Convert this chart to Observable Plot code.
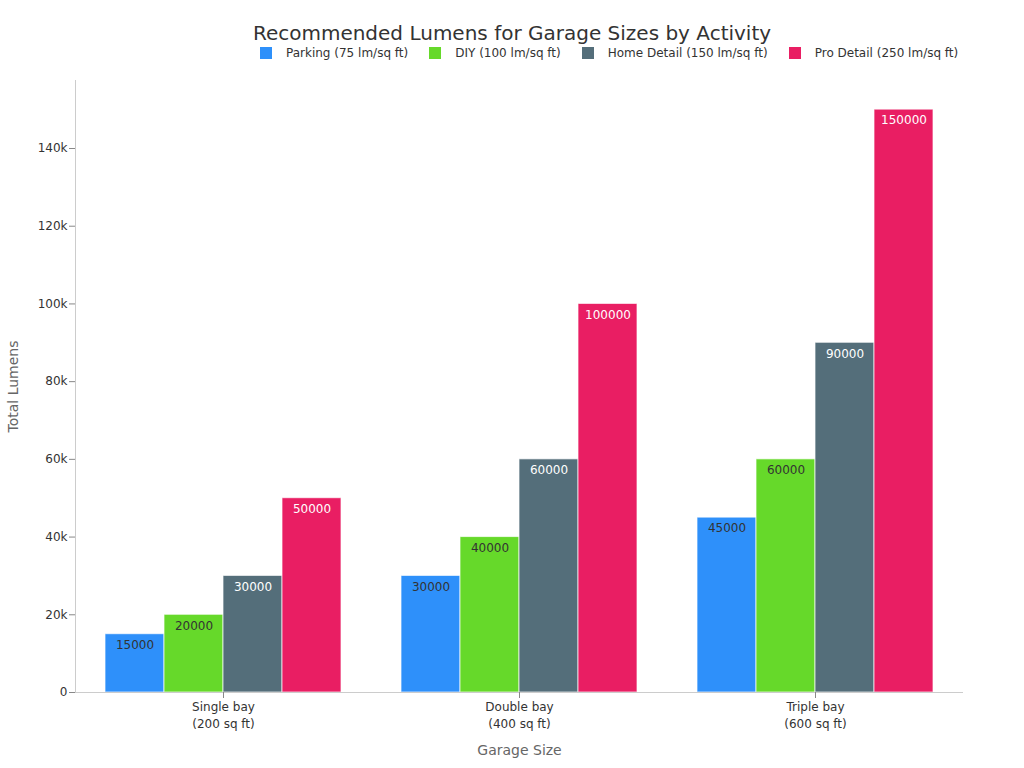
<!DOCTYPE html>
<html>
<head>
<meta charset="utf-8">
<script src="https://cdn.jsdelivr.net/npm/d3@7"></script>
<script src="https://cdn.jsdelivr.net/npm/@observablehq/plot@0.6"></script>
<style>
  body { margin: 0; background: #fff; font-family: "DejaVu Sans", sans-serif; }
  #wrap { position: relative; width: 1024px; height: 768px; }
  #header { position: relative; height: 65px; }
  #title { position: absolute; left: 0; width: 1024px; top: 20px; text-align: center; font-size: 20px; color: #333; line-height: 26px; }
  #legend { position: absolute; left: 260px; top: 45px; display: flex; font-size: 12px; color: #333; line-height: 16px; white-space: nowrap; }
  .item { display: flex; align-items: center; margin-right: 21px; }
  .sw { width: 12px; height: 12px; margin-right: 14px; }
</style>
</head>
<body>
<div id="wrap">
  <div id="header">
    <div id="title">Recommended Lumens for Garage Sizes by Activity</div>
    <div id="legend"></div>
  </div>
  <div id="chart"></div>
</div>
<script>
const groups = ["Single bay\n(200 sq ft)", "Double bay\n(400 sq ft)", "Triple bay\n(600 sq ft)"];
const series = ["Parking (75 lm/sq ft)", "DIY (100 lm/sq ft)", "Home Detail (150 lm/sq ft)", "Pro Detail (250 lm/sq ft)"];
const colors = ["#2E90FA", "#66D92A", "#546E7A", "#E91E63"];
const labelColors = ["#333333", "#333333", "#ffffff", "#ffffff"];
const parking = [15000, 30000, 45000];
const diy = [20000, 40000, 60000];
const homeDetail = [30000, 60000, 90000];
const proDetail = [50000, 100000, 150000];
const yTicks = [0, 20000, 40000, 60000, 80000, 100000, 120000, 140000];

const valuesBySeries = [parking, diy, homeDetail, proDetail];
const data = [];
groups.forEach((g, gi) => series.forEach((s, si) => data.push({group: g, series: s, value: valuesBySeries[si][gi], lc: labelColors[si]})));

const legend = document.getElementById("legend");
series.forEach((s, i) => {
  const it = document.createElement("div");
  it.className = "item";
  it.innerHTML = `<div class="sw" style="background:${colors[i]}"></div><span>${s}</span>`;
  legend.appendChild(it);
});

const chart = Plot.plot({
  width: 1024,
  height: 703,
  marginLeft: 75,
  marginRight: 61,
  marginTop: 15,
  marginBottom: 76,
  style: {fontFamily: "DejaVu Sans, sans-serif", fontSize: "12px", color: "#333", background: "#fff"},
  fx: {domain: groups, padding: 0, label: "Garage Size"},
  x: {domain: series, paddingInner: 0, paddingOuter: 0.5, axis: null},
  y: {domain: [0, 157500], label: "Total Lumens"},
  color: {domain: series, range: colors},
  marks: [
    Plot.barY(data, {fx: "group", x: "series", y: "value", fill: "series", stroke: "#ffffff", strokeOpacity: 0.7, strokeWidth: 1}),
    Plot.text(data, {fx: "group", x: "series", y: "value", text: d => String(d.value), fill: "lc", dy: 11, fontSize: 12}),
    Plot.ruleY([0], {stroke: "#cccccc", strokeWidth: 1}),
    Plot.frame({anchor: "left", stroke: "#cccccc", facet: "super"}),
    Plot.axisY({ticks: yTicks, tickSize: 6, tickPadding: 2, stroke: "#888", tickFormat: d => d === 0 ? "0" : (d / 1000) + "k", label: "Total Lumens", labelAnchor: "center", labelArrow: "none", labelOffset: 67, fontSize: 12}),
    Plot.axisFx({anchor: "bottom", tickSize: 6, tickPadding: 1, lineHeight: 1.4, stroke: "#888", label: "Garage Size", labelAnchor: "center", labelArrow: "none", labelOffset: 62, fontSize: 12})
  ]
});
document.getElementById("chart").appendChild(chart);

// style axis labels
chart.querySelectorAll("[aria-label='y-axis label'] text, [aria-label='fx-axis label'] text").forEach(t => {
  t.setAttribute("fill", "#666");
  t.style.fontSize = "14px";
});
</script>
</body>
</html>
